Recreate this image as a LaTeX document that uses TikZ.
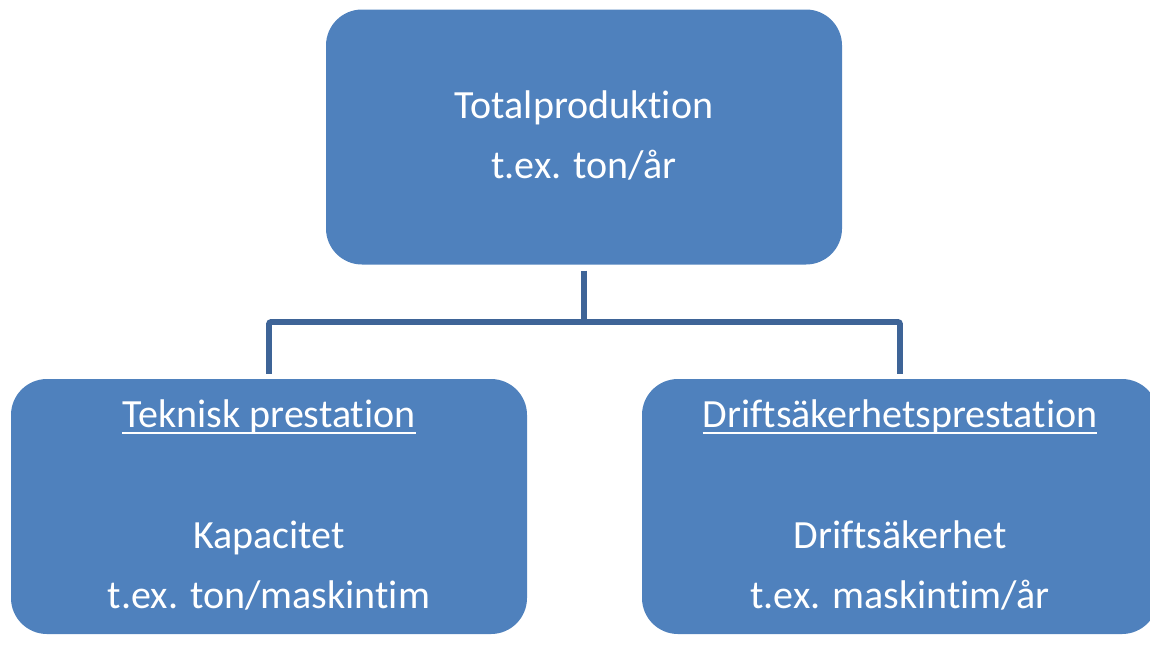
\documentclass[tikz,border=0pt]{standalone}
\usepackage{fontspec}
\setmainfont{Carlito}[Ligatures={NoCommon}]
\definecolor{boxblue}{HTML}{4F81BD}
\definecolor{linkblue}{HTML}{3E6497}
\begin{document}
\begin{tikzpicture}[x=1pt,y=-1pt,
  block/.style={rectangle, fill=boxblue, draw=none, minimum width=516pt,
    minimum height=255pt, rounded corners=36pt, inner sep=0pt},
  label/.style={anchor=base, text=white, inner sep=0pt,
    font=\fontsize{40}{48}\selectfont},
  conn/.style={draw=linkblue, line width=5.7pt, rounded corners=2pt}]
\useasboundingbox (0,0) rectangle (1150,657);
\clip (0,0) rectangle (1150,657);

% boxes
\node[block] (top) at (584,137) {};
\node[block] (left) at (269,506.5) {};
\node[block] (right) at (900,506.5) {};

% texts of the top box
\node[label] (t1) at (584,118) {Totalproduktion};
\node[label] (t2) at (584,178) {t.ex. ton/år};

% texts of the left box
\node[label] (l1) at (269,427) {Teknisk prestation};
\node[label] (l2) at (269,548) {Kapacitet};
\node[label] (l3) at (269,608) {t.ex. ton/maskintim};

% texts of the right box
\node[label] (r1) at (900,427) {Driftsäkerhetsprestation};
\node[label] (r2) at (900,548) {Driftsäkerhet};
\node[label] (r3) at (900,608) {t.ex. maskintim/år};

% underlines of the headings
\draw[white, line width=2pt] ([yshift=-6pt]l1.base west) -- ([yshift=-6pt]l1.base east);
\draw[white, line width=2pt] ([yshift=-6pt]r1.base west) -- ([yshift=-6pt]r1.base east);

% tree connector
\coordinate (bus) at (584,322);
\draw[conn] ([yshift=-6pt]top.south) -- (top.south |- bus);
\draw[conn] ([yshift=5pt]left.north) |- (bus) -| ([yshift=5pt]right.north);
\end{tikzpicture}
\end{document}
